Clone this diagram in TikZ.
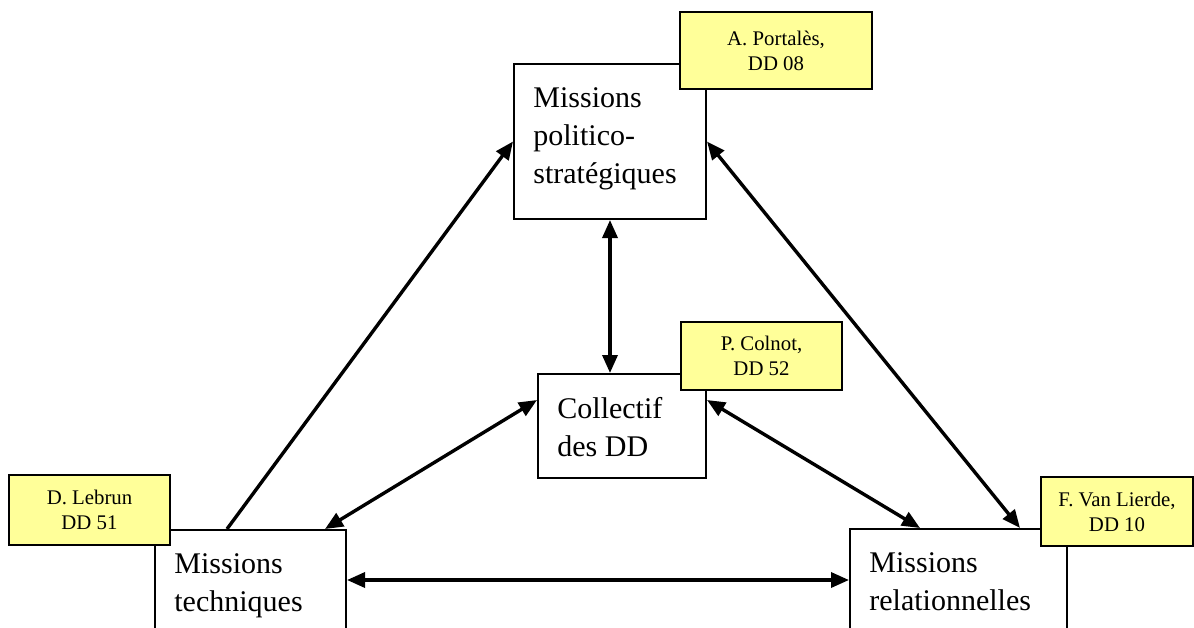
\documentclass[tikz,border=0pt]{standalone}
\usepackage{fontspec}
\setmainfont{Liberation Serif}
\usetikzlibrary{arrows.meta}
\definecolor{noteyellow}{RGB}{255,255,153}
\tikzset{
  mission/.style={draw, line width=1pt, fill=white, inner sep=0pt, anchor=north west},
  mtext/.style={anchor=north west, align=left, inner sep=0pt, xshift=10pt, yshift=-12pt,
    font=\fontsize{15pt}{19pt}\selectfont},
  note/.style={draw, line width=1pt, fill=noteyellow, align=center, inner sep=0pt,
    font=\fontsize{10.4pt}{12.5pt}\selectfont},
  arr/.style={line width=1.7pt, -{Triangle[length=9pt,width=7.5pt]}},
  darr/.style={line width=1.7pt, {Triangle[length=9pt,width=7.5pt]}-{Triangle[length=9pt,width=7.5pt]}},
}
\begin{document}
\begin{tikzpicture}[x=0.5pt,y=-0.5pt]
  \useasboundingbox (0,0) rectangle (1194,627);

  % the four mission boxes
  \node[mission, minimum width=96pt, minimum height=77.5pt,
    label={[mtext]north west:Missions\\politico-\\stratégiques}] (polit) at (513,63) {};
  \node[mission, minimum width=84pt, minimum height=52pt,
    label={[mtext]north west:Collectif\\des DD}] (coll) at (537,373) {};
  \node[mission, minimum width=95.5pt, minimum height=77.5pt,
    label={[mtext]north west:Missions\\techniques}] (tech) at (154,529) {};
  \node[mission, minimum width=108.5pt, minimum height=77.5pt,
    label={[mtext]north west:Missions\\relationnelles}] (rel) at (849,528) {};

  % links
  \coordinate (techmid) at ([yshift=-25.5pt]tech.north east);
  \draw[arr]  ([xshift=36.5pt]tech.north west) -- (polit.west);
  \draw[darr] (polit.east) -- ([xshift=-24pt]rel.north east);
  \draw[darr] (polit.south) -- (polit.south |- coll.north);
  \draw[darr] ([yshift=-13.5pt]coll.north west) -- ([xshift=-11pt]tech.north east);
  \draw[darr] ([yshift=-13.5pt]coll.north east) -- ([xshift=35.5pt]rel.north west);
  \draw[darr] (techmid) -- (techmid -| rel.west);

  % names on top
  \node[note, minimum width=96pt, minimum height=38.5pt] (portales) at (776,50.5) {A. Portalès,\\DD 08};
  \node[note, minimum width=80.5pt, minimum height=34pt] (colnot) at (761.5,356) {P. Colnot,\\DD 52};
  \node[note, minimum width=80.5pt, minimum height=35pt] (lebrun) at (89.5,510) {D. Lebrun\\DD 51};
  \node[note, minimum width=76pt, minimum height=34.5pt] (lierde) at (1117,511.5) {F. Van Lierde,\\DD 10};

\end{tikzpicture}
\end{document}
